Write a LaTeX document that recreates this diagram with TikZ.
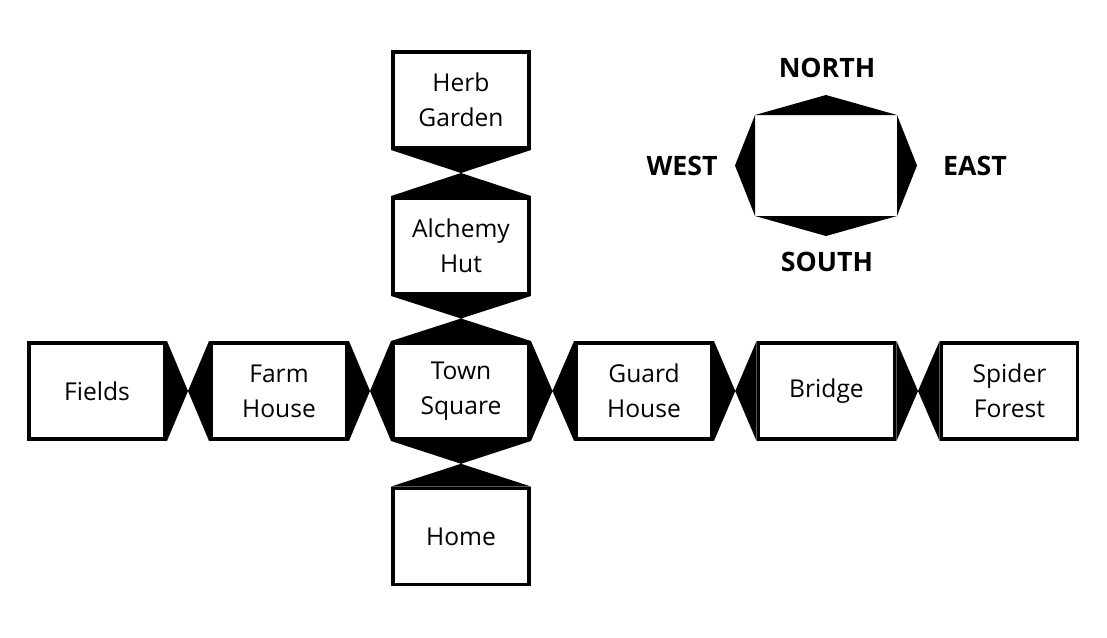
\documentclass[tikz,border=0pt]{standalone}
\usepackage{fontspec}
\setmainfont{Open Sans}
\usetikzlibrary{calc}
\begin{document}
\begin{tikzpicture}[x=1cm,y=1cm,
  room/.style={draw,line width=2.8pt,fill=white,minimum width=3.4cm,minimum height=2.4cm,
    align=center,font=\fontsize{17.5}{25}\selectfont,inner sep=0pt},
  dirlabel/.style={font=\fontsize{19}{22}\selectfont\bfseries,inner sep=0pt}]
  \useasboundingbox (0,0) rectangle (27.675,-15.925);
  % the rooms
  \node[room] (fields) at (2.425,-9.775) {Fields};
  \node[room] (farm) at (6.975,-9.775) {Farm\\House};
  \node[room] (town) at (11.525,-9.775) {Town\\Square};
  \node[room] (guard) at (16.1,-9.775) {Guard\\House};
  \node[room] (bridge) at (20.6625,-9.775) {Bridge};
  \node[room] (spider) at (25.2375,-9.775) {Spider\\Forest};
  \node[room] (herb) at (11.525,-2.5) {Herb\\Garden};
  \node[room] (hut) at (11.525,-6.15) {Alchemy\\Hut};
  \node[room] (home) at (11.525,-13.4125) {Home};
  % exits, east-west
  \fill (fields.north east) -- (fields.south east) -- (farm.north west) -- (farm.south west) -- cycle;
  \fill (farm.north east) -- (farm.south east) -- (town.north west) -- (town.south west) -- cycle;
  \fill (town.north east) -- (town.south east) -- (guard.north west) -- (guard.south west) -- cycle;
  \fill (guard.north east) -- (guard.south east) -- (bridge.north west) -- (bridge.south west) -- cycle;
  \fill (bridge.north east) -- (bridge.south east) -- (spider.north west) -- (spider.south west) -- cycle;
  % exits, north-south
  \fill (herb.south west) -- (herb.south east) -- (hut.north west) -- (hut.north east) -- cycle;
  \fill (hut.south west) -- (hut.south east) -- (town.north west) -- (town.north east) -- cycle;
  \fill (town.south west) -- (town.south east) -- (home.north west) -- (home.north east) -- cycle;
  % compass
  \node[minimum width=3.55cm,minimum height=2.525cm,inner sep=0pt,outer sep=0pt] (compass) at (20.65,-4.1375) {};
  \fill (compass.north west) -- (compass.north east) -- ($(compass.north)+(0,0.5)$) -- cycle;
  \fill (compass.south west) -- (compass.south east) -- ($(compass.south)+(0,-0.5)$) -- cycle;
  \fill (compass.north west) -- (compass.south west) -- ($(compass.west)+(-0.5,0)$) -- cycle;
  \fill (compass.north east) -- (compass.south east) -- ($(compass.east)+(0.5,0)$) -- cycle;
  \node[dirlabel] (north) at (20.675,-1.7) {NORTH};
  \node[dirlabel] (south) at (20.675,-6.55) {SOUTH};
  \node[dirlabel] (west) at (17.05,-4.15) {WEST};
  \node[dirlabel] (east) at (24.375,-4.15) {EAST};
\end{tikzpicture}
\end{document}
